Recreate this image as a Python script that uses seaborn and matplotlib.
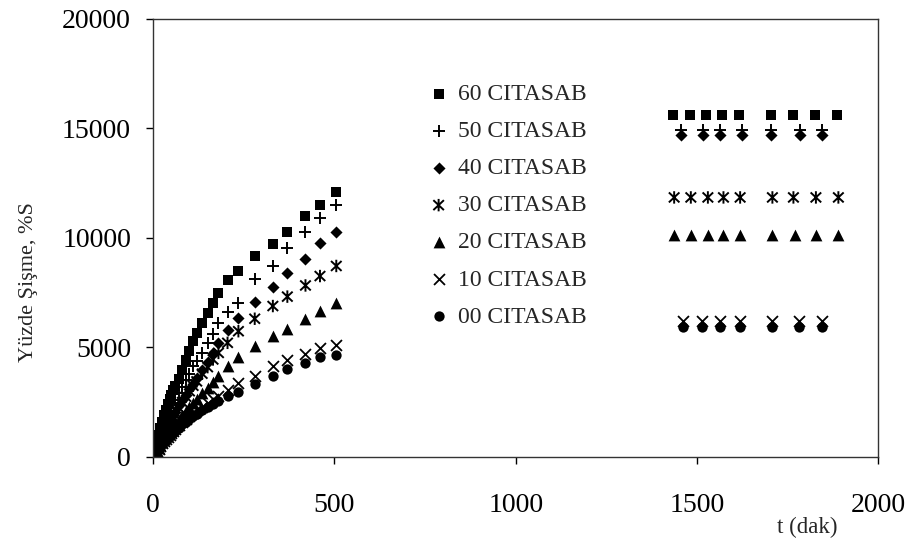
import numpy as np
import pandas as pd
import matplotlib.pyplot as plt
from matplotlib.path import Path
import seaborn as sns

# zaman (dakika) - ilk ölçüm aralığı, tüm seriler için ortak
t_erken = [0, 5, 10, 15, 20, 25, 30, 35, 40, 45, 50, 55, 60, 70, 80, 90, 100,
           110, 120, 135, 150, 165, 180, 205, 235, 280, 330, 370, 420, 460, 505]

s60 = [0, 350, 700, 1000, 1300, 1600, 1900, 2150, 2400, 2650, 2850, 3050, 3250, 3550, 3980,
       4440, 4820, 5280, 5670, 6120, 6580, 7010, 7500, 8060, 8475, 9180, 9710, 10290, 10980, 11500, 12110]
s50 = [0, 250, 500, 750, 1000, 1200, 1450, 1650, 1850, 2050, 2250, 2450, 2600, 2900, 3200,
       3500, 3800, 4150, 4400, 4750, 5200, 5600, 6100, 6600, 7050, 8110, 8720, 9560, 10250, 10930, 11500]
s40 = [0, 200, 400, 600, 800, 1000, 1150, 1300, 1450, 1600, 1750, 1900, 2050, 2350, 2600,
       2850, 3100, 3350, 3600, 3950, 4350, 4750, 5200, 5780, 6330, 7060, 7770, 8420, 9060, 9760, 10250]
s30 = [0, 180, 370, 550, 720, 900, 1050, 1200, 1350, 1500, 1650, 1800, 1950, 2250, 2500,
       2750, 3000, 3250, 3450, 3800, 4100, 4450, 4750, 5210, 5740, 6310, 6890, 7320, 7830, 8260, 8720]
s20 = [0, 140, 280, 420, 560, 700, 820, 940, 1060, 1180, 1300, 1400, 1500, 1700, 1900,
       2100, 2300, 2480, 2650, 2900, 3150, 3400, 3680, 4140, 4570, 5050, 5510, 5850, 6310, 6660, 7010]
s10 = [0, 130, 260, 380, 500, 620, 730, 830, 930, 1020, 1110, 1200, 1280, 1440, 1590,
       1730, 1870, 2000, 2120, 2300, 2480, 2650, 2800, 3070, 3380, 3710, 4140, 4410, 4720, 4980, 5130]
s00 = [0, 120, 240, 360, 470, 580, 680, 770, 860, 950, 1030, 1110, 1190, 1340, 1480,
       1610, 1740, 1860, 1970, 2130, 2280, 2420, 2540, 2760, 2950, 3340, 3680, 4020, 4290, 4570, 4670]

# geç ölçümler (denge bölgesi)
t_gec60 = [1434, 1480, 1526, 1569, 1616, 1704, 1766, 1826, 1886]
g60 = [15600, 15600, 15600, 15600, 15600, 15600, 15600, 15600, 15600]
t_gec50 = [1456, 1517, 1563, 1625, 1704, 1785, 1845]
g50 = [14950, 14950, 14950, 14950, 14950, 14950, 14950]
t_gec40 = [1456, 1517, 1563, 1625, 1704, 1785, 1845]
g40 = [14700, 14700, 14700, 14700, 14700, 14700, 14700]
t_gec30 = [1437, 1483, 1530, 1573, 1619, 1708, 1766, 1828, 1890]
g30 = [11850, 11850, 11850, 11850, 11850, 11850, 11850, 11850, 11850]
t_gec20 = [1437, 1483, 1530, 1573, 1619, 1708, 1769, 1828, 1889]
g20 = [10150, 10150, 10150, 10150, 10150, 10150, 10150, 10150, 10150]
t_gec10 = [1462, 1513, 1563, 1619, 1706, 1780, 1845]
g10 = [6200, 6200, 6200, 6200, 6200, 6200, 6200]
t_gec00 = [1462, 1513, 1563, 1619, 1706, 1780, 1845]
g00 = [5950, 5950, 5950, 5950, 5950, 5950, 5950]

etiketler = ['00 CITASAB', '10 CITASAB', '20 CITASAB', '30 CITASAB',
             '40 CITASAB', '50 CITASAB', '60 CITASAB']

# yıldız işareti: dikey çizgi + çarpı
yildiz = Path([(0, -1), (0, 1), (-0.85, -0.8), (0.85, 0.8), (-0.85, 0.8), (0.85, -0.8)],
              [Path.MOVETO, Path.LINETO] * 3)

seriler = [
    (s00, t_gec00, g00, dict(marker='o', s=55, color='black', linewidth=0)),
    (s10, t_gec10, g10, dict(marker='x', s=62, color='black', linewidth=1.3)),
    (s20, t_gec20, g20, dict(marker='^', s=72, color='black', linewidth=0)),
    (s30, t_gec30, g30, dict(marker=yildiz, s=80, facecolor='none', edgecolor='black', linewidth=1.4)),
    (s40, t_gec40, g40, dict(marker='D', s=38, color='black', linewidth=0)),
    (s50, t_gec50, g50, dict(marker='+', s=85, color='black', linewidth=1.4)),
    (s60, t_gec60, g60, dict(marker='s', s=55, color='black', linewidth=0)),
]

sns.set_style('ticks')
plt.rcParams['font.family'] = ['Liberation Serif', 'DejaVu Serif']

fig = plt.figure(figsize=(9.12, 5.42), dpi=100)
ax = fig.add_axes([0.168, 0.157, 0.795, 0.808])

handles = []
for (erken, t_gec, gec, stil), ad in zip(seriler, etiketler):
    df = pd.DataFrame({'t': t_erken + t_gec, 'S': erken + gec})
    sns.scatterplot(data=df, x='t', y='S', ax=ax, label=ad, legend=False, **stil)
    handles.append(ax.collections[-1])

ax.set_xlim(0, 2000)
ax.set_ylim(0, 20000)
ax.set_xticks([0, 500, 1000, 1500, 2000])
ax.set_yticks([0, 5000, 10000, 15000, 20000])
ax.tick_params(labelsize=20, direction='out', length=5, width=1, pad=11, colors='black')
ax.tick_params(axis='x', pad=21)
for sp in ax.spines.values():
    sp.set_color('#333333')
    sp.set_linewidth(1)

ax.set_xlabel('')
ax.set_ylabel('')
fig.text(0.031, 0.48, 'Yüzde Şişme, %S', rotation=90, fontsize=16, ha='center', va='center')
fig.text(0.918, 0.026, 't (dak)', fontsize=16.5, ha='right', va='center')

# lejant: 60 en üstte
fig.legend(handles[::-1], etiketler[::-1], loc='upper left', bbox_to_anchor=(0.468, 0.846),
           frameon=False, fontsize=17, handlelength=1.0, handletextpad=0.3,
           labelspacing=0.66, borderpad=0, borderaxespad=0, scatterpoints=1)

plt.savefig('out.png', dpi=100)
